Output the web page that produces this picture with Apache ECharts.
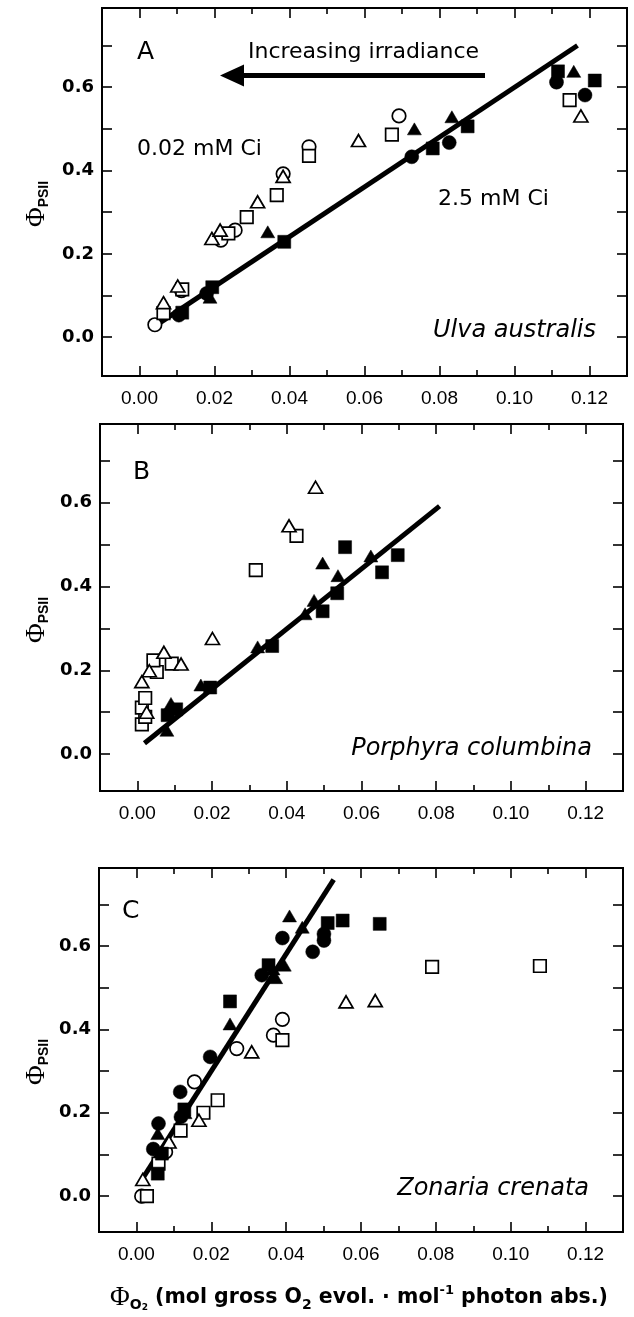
<!DOCTYPE html>
<html>
<head>
<meta charset="utf-8">
<script src="https://cdn.jsdelivr.net/npm/echarts@6/dist/echarts.min.js"></script>
<style>
html,body{margin:0;padding:0;background:#fff;}
#chart{width:634px;height:1317px;}
</style>
</head>
<body>
<div id="chart"></div>
<script>
// ---------- tick values ----------
const xMajorTicks = [0, 0.02, 0.04, 0.06, 0.08, 0.10, 0.12];
const xMinorTicks = [0.01, 0.03, 0.05, 0.07, 0.09, 0.11];
const yTicks = [0, 0.1, 0.2, 0.3, 0.4, 0.5, 0.6, 0.7];
const yTickLabels = [0, 0.2, 0.4, 0.6];

// ---------- Panel A: Ulva australis ----------
const A_filledCircle = [[0.0105,0.053],[0.0179,0.105],[0.0726,0.433],[0.0826,0.467],[0.1112,0.612],[0.1188,0.581]];
const A_filledSquare = [[0.0114,0.059],[0.0194,0.120],[0.0386,0.229],[0.0782,0.453],[0.0875,0.506],[0.1116,0.638],[0.1214,0.616]];
const A_filledTriangle = [[0.0188,0.096],[0.0342,0.253],[0.0733,0.500],[0.0833,0.529],[0.1158,0.638]];
const A_openCircle = [[0.0041,0.030],[0.0112,0.112],[0.0217,0.233],[0.0255,0.257],[0.0383,0.392],[0.0452,0.457],[0.0692,0.531]];
const A_openSquare = [[0.0064,0.058],[0.0114,0.115],[0.0237,0.249],[0.0286,0.288],[0.0366,0.341],[0.0452,0.435],[0.0673,0.486],[0.1147,0.569]];
const A_openTriangle = [[0.0064,0.083],[0.0102,0.123],[0.0193,0.237],[0.0215,0.257],[0.0315,0.325],[0.0383,0.386],[0.0584,0.472],[0.1177,0.531]];
const A_fit = [[0.005,0.032],[0.1168,0.700]];

// ---------- Panel B: Porphyra columbina ----------
const B_filledCircle = [];
const B_filledSquare = [[0.0081,0.093],[0.0104,0.107],[0.0195,0.159],[0.0361,0.258],[0.0496,0.341],[0.0535,0.384],[0.0556,0.494],[0.0655,0.434],[0.0697,0.475]];
const B_filledTriangle = [[0.0079,0.057],[0.0090,0.121],[0.0170,0.165],[0.0322,0.256],[0.0449,0.335],[0.0473,0.367],[0.0496,0.456],[0.0537,0.426],[0.0625,0.473]];
const B_openCircle = [];
const B_openSquare = [[0.0012,0.071],[0.0021,0.089],[0.0012,0.111],[0.0021,0.134],[0.0052,0.196],[0.0043,0.224],[0.0092,0.216],[0.0317,0.439],[0.0426,0.521]];
const B_openTriangle = [[0.0025,0.100],[0.0012,0.173],[0.0032,0.199],[0.0071,0.243],[0.0117,0.215],[0.0201,0.276],[0.0406,0.545],[0.0477,0.637]];
const B_fit = [[0.0019,0.026],[0.0809,0.592]];

// ---------- Panel C: Zonaria crenata ----------
const C_filledCircle = [[0.0045,0.113],[0.0059,0.174],[0.0119,0.190],[0.0117,0.250],[0.0197,0.334],[0.0335,0.530],[0.0390,0.619],[0.0471,0.586],[0.0501,0.613],[0.0501,0.629]];
const C_filledSquare = [[0.0057,0.054],[0.0068,0.102],[0.0128,0.208],[0.0250,0.467],[0.0353,0.554],[0.0511,0.655],[0.0551,0.661],[0.0650,0.653]];
const C_filledTriangle = [[0.0057,0.150],[0.0130,0.200],[0.0250,0.413],[0.0365,0.545],[0.0372,0.524],[0.0395,0.554],[0.0409,0.672],[0.0443,0.645]];
const C_openCircle = [[0.0014,0.000],[0.0078,0.106],[0.0155,0.274],[0.0268,0.354],[0.0366,0.386],[0.0390,0.424]];
const C_openSquare = [[0.0028,0.000],[0.0059,0.078],[0.0118,0.157],[0.0179,0.200],[0.0217,0.230],[0.0390,0.374],[0.0790,0.550],[0.1078,0.552]];
const C_openTriangle = [[0.0017,0.040],[0.0087,0.130],[0.0167,0.182],[0.0308,0.346],[0.0560,0.466],[0.0638,0.469]];
const C_fit = [[0.0015,0.040],[0.0527,0.759]];

// ---------- labels ----------
const panelLetters = ['A', 'B', 'C'];
const speciesNames = ['Ulva australis', 'Porphyra columbina', 'Zonaria crenata'];
const arrowText = 'Increasing irradiance';
const lowCiText = '0.02 mM Ci';
const highCiText = '2.5 mM Ci';

const panels = [
  {fc:A_filledCircle, fs:A_filledSquare, ft:A_filledTriangle, oc:A_openCircle, os:A_openSquare, ot:A_openTriangle, fit:A_fit},
  {fc:B_filledCircle, fs:B_filledSquare, ft:B_filledTriangle, oc:B_openCircle, os:B_openSquare, ot:B_openTriangle, fit:B_fit},
  {fc:C_filledCircle, fs:C_filledSquare, ft:C_filledTriangle, oc:C_openCircle, os:C_openSquare, ot:C_openTriangle, fit:C_fit}
];

// layout (pixels)
const gridBoxes = [
  {left:102, top:8, width:525, height:368},
  {left:100, top:424, width:523, height:367},
  {left:99, top:868, width:524, height:364}
];
const yRanges = [[-0.093, 0.79], [-0.088, 0.788], [-0.086, 0.787]];
const SANS = '"DejaVu Sans", sans-serif';
const ARIAL = '"Liberation Sans", Arial, sans-serif';
const SERIF = '"Liberation Serif", "DejaVu Serif", serif';

const grid = [], xAxis = [], yAxis = [], series = [];
gridBoxes.forEach((g, i) => {
  grid.push({left:g.left, top:g.top, width:g.width, height:g.height, show:true, borderColor:'#000', borderWidth:2, backgroundColor:'transparent'});
  const baseX = {gridIndex:i, type:'value', min:-0.01, max:0.13, axisLine:{show:false, onZero:false}, splitLine:{show:false}};
  ['bottom','top'].forEach(pos => {
    xAxis.push(Object.assign({}, baseX, {
      position:pos,
      axisTick:{show:true, inside:true, length:10, customValues:xMajorTicks, lineStyle:{color:'#000', width:1.6}},
      axisLabel: pos === 'bottom'
        ? {show:true, customValues:xMajorTicks, formatter:v => v.toFixed(2), fontSize:19, color:'#000', margin:13, fontFamily:ARIAL}
        : {show:false}
    }));
    xAxis.push(Object.assign({}, baseX, {
      position:pos,
      axisTick:{show:true, inside:true, length:6, customValues:xMinorTicks, lineStyle:{color:'#000', width:1.6}},
      axisLabel:{show:false}
    }));
  });
  const baseY = {gridIndex:i, type:'value', min:yRanges[i][0], max:yRanges[i][1], axisLine:{show:false, onZero:false}, splitLine:{show:false}};
  yAxis.push(Object.assign({}, baseY, {
    position:'left',
    axisTick:{show:true, inside:true, length:10, customValues:yTicks, lineStyle:{color:'#000', width:1.6}},
    axisLabel:{show:true, customValues:yTickLabels, formatter:v => v.toFixed(1), fontSize:18, fontWeight:'bold', color:'#000', margin:8, fontFamily:SANS}
  }));
  yAxis.push(Object.assign({}, baseY, {
    position:'right',
    axisTick:{show:true, inside:true, length:10, customValues:yTicks, lineStyle:{color:'#000', width:1.6}},
    axisLabel:{show:false}
  }));

  const p = panels[i];
  const xi = i * 4, yi = i * 2;
  series.push({type:'line', xAxisIndex:xi, yAxisIndex:yi, data:p.fit, symbol:'none', lineStyle:{color:'#000', width:5}, z:1, silent:true, animation:false});
  const sc = (data, symbol, size, filled) => ({
    type:'scatter', xAxisIndex:xi, yAxisIndex:yi, data:data, symbol:symbol, symbolSize:size, z:3, animation:false,
    itemStyle: filled ? {color:'#000', borderColor:'#000', borderWidth:0.5, opacity:1}
                      : {color:'#fff', borderColor:'#000', borderWidth:1.7, opacity:1}
  });
  series.push(sc(p.oc, 'circle', 13.5, false));
  series.push(sc(p.os, 'rect', 12.5, false));
  series.push(sc(p.ot, 'triangle', [14, 12], false));
  series.push(sc(p.fc, 'circle', 14, true));
  series.push(sc(p.fs, 'rect', 13, true));
  series.push(sc(p.ft, 'triangle', [14, 12], true));
});

const txt = (text, x, y, font, align, vAlign) => ({
  type:'text', x:x, y:y, z:10,
  style:{text:text, font:font, fill:'#000', textAlign:align || 'left', textVerticalAlign:vAlign || 'middle'}
});

const graphic = [
  txt(panelLetters[0], 137, 52, '25px ' + SANS),
  txt(panelLetters[1], 133, 472, '25px ' + SANS),
  txt(panelLetters[2], 122, 911, '25px ' + SANS),
  txt(arrowText, 248, 52, '22px ' + SANS),
  txt(lowCiText, 137, 149, '22px ' + SANS),
  txt(highCiText, 438, 199, '22px ' + SANS),
  txt(speciesNames[0], 596, 331, 'italic 24px ' + SANS, 'right'),
  txt(speciesNames[1], 592, 749, 'italic 24px ' + SANS, 'right'),
  txt(speciesNames[2], 589, 1189, 'italic 24px ' + SANS, 'right'),
  // arrow
  {type:'rect', z:10, shape:{x:238, y:73, width:247, height:5}, style:{fill:'#000'}},
  {type:'polygon', z:10, shape:{points:[[220,75.5],[244,64.5],[244,86.5]]}, style:{fill:'#000'}}
];

// y-axis titles
const yTitleY = [204, 620, 1062];
yTitleY.forEach(yy => {
  graphic.push({
    type:'text', x:37, y:yy, rotation:Math.PI/2, z:10,
    style:{
      text:'{phi|Φ}{sub|PSII}',
      textAlign:'center', textVerticalAlign:'middle',
      rich:{
        phi:{font:'27px ' + SERIF, fill:'#000', lineHeight:28, verticalAlign:'middle'},
        sub:{font:'bold 14px ' + ARIAL, fill:'#000', lineHeight:14, verticalAlign:'bottom'}
      }
    }
  });
});

// x-axis title
graphic.push({
  type:'text', x:359, y:1298, z:10,
  style:{
    text:'{phi|Φ}{sub|O}{sub2|2}{t| (mol gross O}{sub|2}{t| evol. · mol}{sup|-1}{t| photon abs.)}',
    textAlign:'center', textVerticalAlign:'middle',
    rich:{
      phi:{font:'27px ' + SERIF, fill:'#000', lineHeight:28, verticalAlign:'middle'},
      t:{font:'bold 20.5px ' + SANS, fill:'#000', lineHeight:28, verticalAlign:'middle'},
      sub:{font:'bold 14px ' + SANS, fill:'#000', lineHeight:14, verticalAlign:'bottom'},
      sub2:{font:'bold 9px ' + SANS, fill:'#000', lineHeight:9, verticalAlign:'bottom'},
      sup:{font:'bold 13px ' + SANS, fill:'#000', lineHeight:13, verticalAlign:'top'}
    }
  }
});

const chart = echarts.init(document.getElementById('chart'), null, {renderer:'canvas'});
chart.setOption({
  animation:false,
  backgroundColor:'#fff',
  grid:grid, xAxis:xAxis, yAxis:yAxis, series:series, graphic:graphic
});
</script>
</body>
</html>
